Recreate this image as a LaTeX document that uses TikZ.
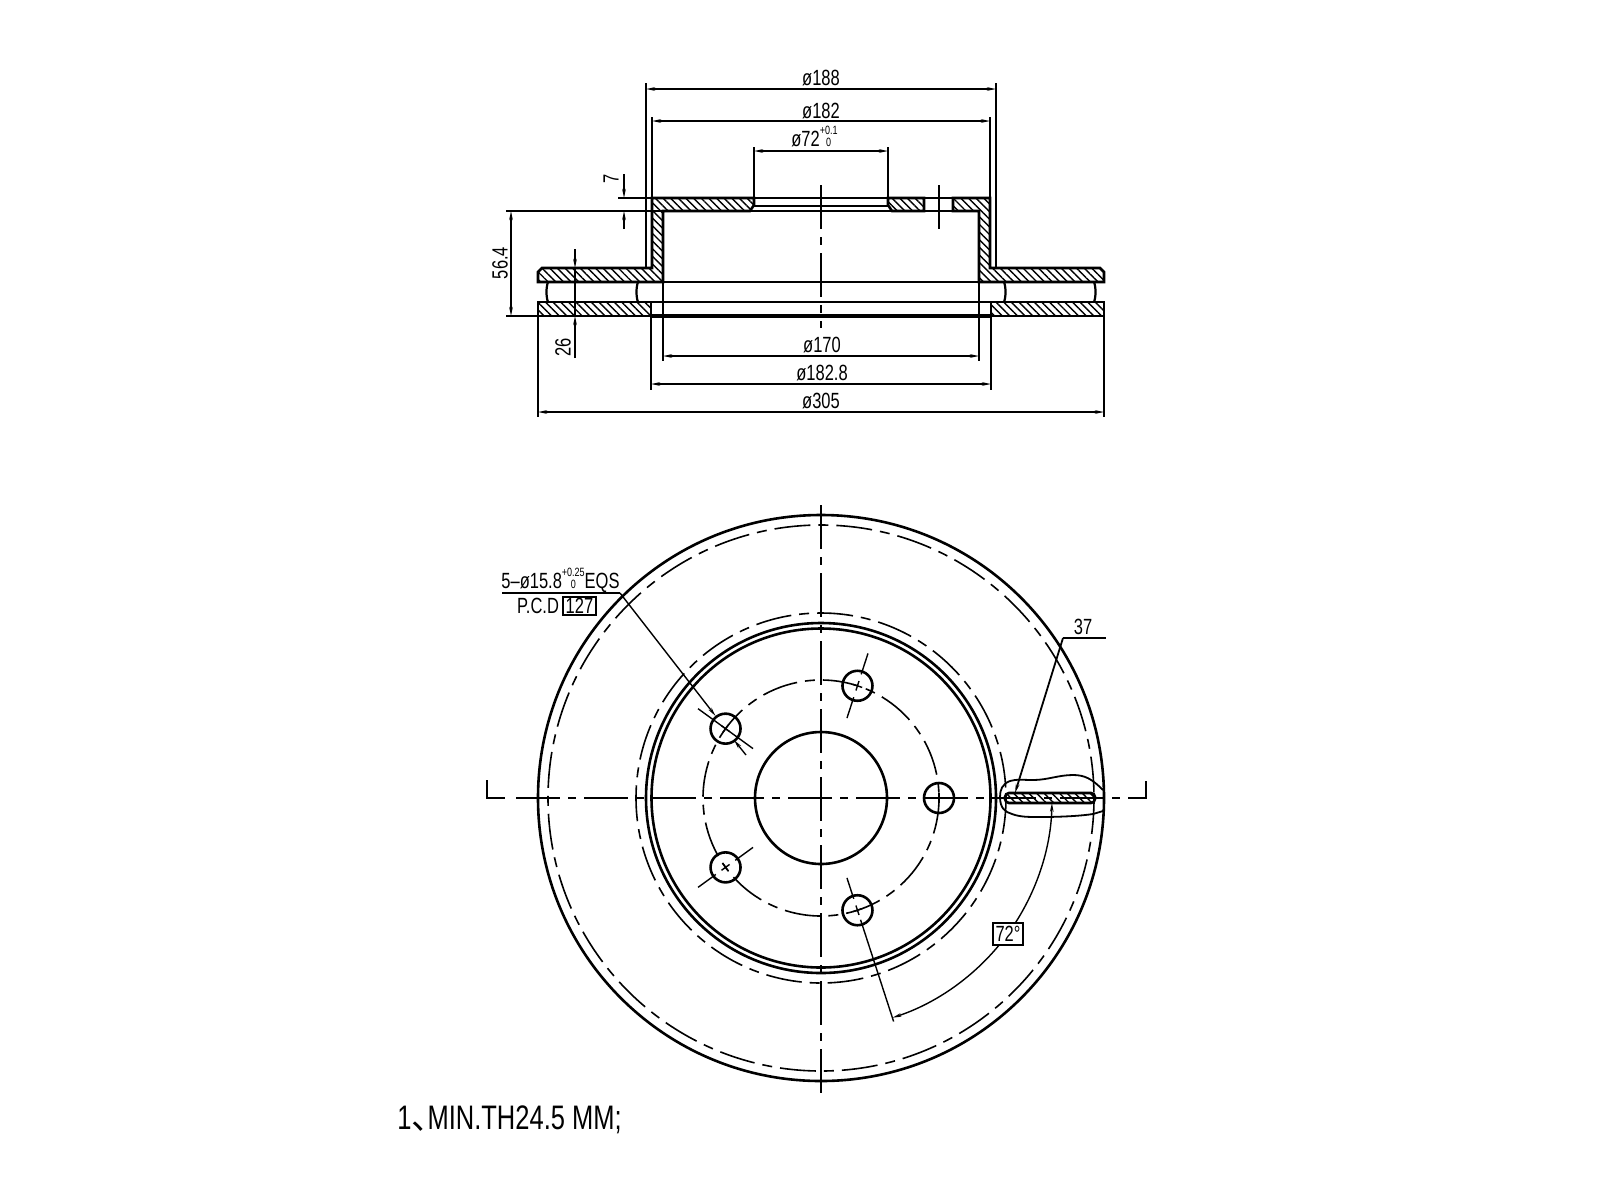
\documentclass[tikz,border=0pt]{standalone}
\usepackage{fontspec}
\setmainfont[FakeStretch=0.75]{Liberation Sans}
\newfontfamily\cjk{Noto Sans CJK SC}
\usetikzlibrary{arrows.meta,patterns.meta}

\tikzstyle{outline}=[draw=black, line width=1.3pt]
\tikzstyle{thinline}=[draw=black, line width=0.7pt]
\tikzstyle{dimline}=[thinline, <->]
\tikzstyle{leader}=[thinline, ->]
\tikzstyle{section}=[outline, pattern={Lines[angle=-45,distance=2.7pt,line width=0.7pt]}]
\tikzstyle{centerline}=[thinline, dash pattern=on 22pt off 4pt on 4pt off 4pt]
\tikzstyle{dashcircle}=[thinline, line width=0.8pt, dash pattern=on 18pt off 4pt on 5pt off 4pt]
\tikzstyle{dimtext}=[inner sep=0pt, font=\fontsize{11}{11}\selectfont]
\tikzstyle{notebox}=[dimtext, draw=black, line width=0.6pt]

\newcommand{\tolstack}[2]{{\fontsize{6}{6}\selectfont\renewcommand{\arraystretch}{1}\setlength{\tabcolsep}{0pt}\begin{tabular}[b]{c}#1\\#2\end{tabular}}}

\begin{document}
\begin{tikzpicture}[x=0.5pt, y=-0.5pt, >={Stealth[length=4.5pt,width=1.8pt]}]
\useasboundingbox (0,0) rectangle (1600,1200);

% side view
\draw[section] (652,198) -- (754,198) -- (754,205) -- (750,211) -- (663,211) -- (663,282) -- (538,282)
  -- (538,272) -- (542,268) -- (652,268) -- cycle;
\draw[section] (888,198) -- (924,198) -- (924,211) -- (892,211) -- (888,205) -- cycle;
\draw[section] (953,198) -- (990,198) -- (990,268) -- (1100,268) -- (1104,272) -- (1104,282) -- (979,282)
  -- (979,211) -- (953,211) -- cycle;
\draw[section] (538,302) rectangle (651,316);
\draw[section] (991,302) rectangle (1104,316);

\draw[outline] (754,198) -- (888,198);
\draw[outline] (924,198) -- (953,198);
\draw[outline] (924,211) -- (953,211);
\draw[outline, line width=0.9pt] (754,206) -- (888,206);
\draw[outline, line width=0.9pt] (750,211) -- (892,211);
\draw[thinline, line width=0.9pt] (663,282) -- (979,282);
\draw[outline] (651,302) -- (991,302);
\draw[outline, line width=1.9pt] (651,316) -- (991,316);
\foreach \ribx/\bend in {548/546,638/636,1004/1006,1094/1096}
  \draw[outline, line width=1.1pt] (\ribx,282) .. controls (\bend,287) and (\bend,297) .. (\ribx,302);

% side view, centre lines
\draw[centerline] (821,185) -- (821,328);
\draw[thinline] (939,185) -- (939,229);

% side view, extension lines
\foreach \extx/\exta/\extb in {646/83/268,996/83/268,652/117/198,990/117/198,754/147/198,888/147/198,
    663/282/361,979/282/361,651/302/390,991/302/390,538/316/417,1104/316/417}
  \draw[thinline] (\extx,\exta) -- (\extx,\extb);
\draw[thinline] (618,198) -- (652,198);
\draw[thinline, line width=0.9pt] (506,211) -- (663,211);
\draw[thinline, line width=0.9pt] (506,316) -- (538,316);

% side view, dimensions
\draw[dimline] (646,89) -- (996,89);
\draw[dimline] (652,121) -- (990,121);
\draw[dimline] (754,151) -- (888,151);
\draw[dimline] (663,356) -- (979,356);
\draw[dimline] (651,384) -- (991,384);
\draw[dimline] (538,412) -- (1104,412);
\draw[dimline] (511,211) -- (511,316);
\draw[leader] (624,174) -- (624,198);
\draw[leader] (624,229) -- (624,211);
\draw[thinline] (575,268) -- (575,316);
\draw[leader] (575,249) -- (575,268);
\draw[leader] (575,358) -- (575,316);

\node[dimtext] (d188) at (821,78) {ø188};
\node[dimtext] (d182) at (821,111) {ø182};
\node[dimtext, anchor=base west] (d72) at (791,146) {ø72\tolstack{+0.1}{0}};
\node[dimtext] (d170) at (822,345) {ø170};
\node[dimtext] (d1828) at (822,373) {ø182.8};
\node[dimtext] (d305) at (821,401) {ø305};
\node[dimtext, rotate=90] (d7) at (611,179) {7};
\node[dimtext, rotate=90] (d564) at (500,263) {56.4};
\node[dimtext, rotate=90] (d26) at (563,347) {26};

% front view
\draw[outline] (821,798) circle (283);
\draw[outline] (821,798) circle (175);
\draw[outline] (821,798) circle (169.5);
\draw[outline] (821,798) circle (66);
\draw[dashcircle] (821,798) circle (273);
\draw[dashcircle] (821,798) circle (185);
\draw[dashcircle] (821,798) circle (118);

\draw[centerline] (821,505) -- (821,1097);
\draw[centerline] (516,798) -- (1125,798);
\draw[outline, line width=0.9pt] (487,780) -- (487,798) -- (505,798);
\draw[outline, line width=0.9pt] (1146,781) -- (1146,798) -- (1128,798);

% bolt holes
\begin{scope}[shift={(821,798)}]
\foreach \a in {0,72,144,216,288} {
  \draw[outline] (\a:118) circle (15);
  \draw[thinline] (\a:113) -- (\a:123);
  \draw[thinline] (\a-2.4:118) -- (\a+2.4:118);
}
\foreach \a in {144,288} {
  \draw[thinline] (\a:84) -- (\a:106);
  \draw[thinline] (\a:130) -- (\a:152);
}
\draw[thinline] (72:84) -- (72:106);
\draw[thinline] (72:128) -- (72:235);
\draw[thinline] (216:84) -- (216:152);
% angle between holes
\draw[thinline, <-] (72:231) arc (72:39.5:231);
\draw[thinline, ->] (32.8:231) arc (32.8:1.2:231);
\end{scope}
\node[notebox, minimum width=15pt, minimum height=11pt] (a72) at (1008,934) {72°};

% hole callout
\coordinate (shelfa) at (502,593);
\coordinate (shelfb) at (620,593);
\coordinate (holea) at (715.6,716);
\coordinate (holeb) at (734,740);
\coordinate (holec) at (746,755);
\draw[thinline] (shelfa) -- (shelfb);
\draw[leader] (shelfb) -- (holea);
\draw[leader] (holec) -- (holeb);
\node[dimtext, anchor=base west] (callout) at (501,588) {5–ø15.8\tolstack{+0.25}{0}EQS};
\node[dimtext] (pcd) at (538,606) {P.C.D};
\node[notebox, minimum width=16.5pt, minimum height=9pt] (pcdval) at (579.5,606) {127};

% cut through the rim
\draw[section, rounded corners=2pt] (1005,793) rectangle (1095,803);
\draw[thinline, line width=0.9pt] (1103,790) .. controls (1092,779) and (1085,775) .. (1073,775)
  .. controls (1058,775) and (1048,780) .. (1033,780) .. controls (1024,780) and (1016,779) .. (1010,781)
  .. controls (1002,784) and (1000,790) .. (1000,797) .. controls (1000,808) and (1005,812) .. (1012,814)
  .. controls (1020,817) and (1028,817) .. (1040,817) .. controls (1060,817) and (1080,816) .. (1093,814)
  -- (1103,811);
\coordinate (slot) at (1015,793);
\coordinate (kink) at (1063,638);
\coordinate (shelfc) at (1106,638);
\draw[leader, line width=0.9pt] (kink) -- (slot);
\draw[thinline] (kink) -- (shelfc);
\node[dimtext] (d37) at (1083,627) {37};

% note
\node[inner sep=0pt, anchor=west, font=\fontsize{17}{17}\selectfont] (note) at (397,1120) {1{\cjk 、}\kern-9pt MIN.TH24.5 MM;};

\end{tikzpicture}
\end{document}
